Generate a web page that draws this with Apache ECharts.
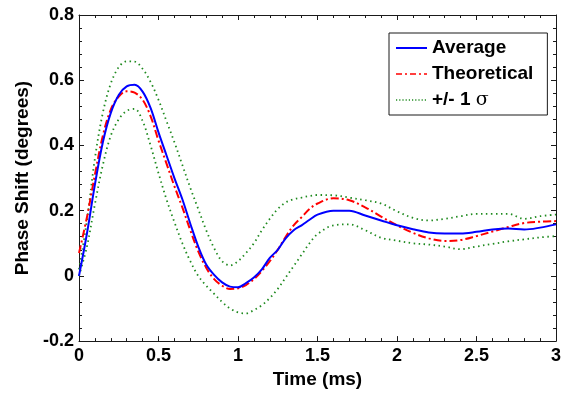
<!DOCTYPE html>
<html>
<head>
<meta charset="utf-8">
<script src="https://cdn.jsdelivr.net/npm/echarts@6/dist/echarts.min.js"></script>
<style>html,body{margin:0;padding:0;background:#fff}#c{width:570px;height:394px}</style>
</head>
<body>
<div id="c"></div>
<script>
var time = [0,0.05,0.1,0.15,0.2,0.25,0.3,0.35,0.4,0.45,0.5,0.55,0.6,0.65,0.7,0.75,0.8,0.85,0.9,0.95,1.0,1.05,1.1,1.15,1.2,1.25,1.3,1.35,1.4,1.45,1.5,1.6,1.7,1.8,1.9,2.0,2.1,2.2,2.3,2.4,2.5,2.6,2.7,2.8,2.9,3.0];
var average = [0,0.13,0.28,0.41,0.5,0.555,0.581,0.586,0.565,0.515,0.44,0.37,0.3,0.235,0.16,0.09,0.035,0.003,-0.02,-0.033,-0.035,-0.022,-0.005,0.02,0.055,0.08,0.115,0.14,0.155,0.172,0.188,0.2,0.2,0.185,0.17,0.155,0.143,0.133,0.13,0.13,0.135,0.142,0.145,0.142,0.148,0.158];
var theoretical = [0.07,0.18,0.31,0.43,0.51,0.55,0.566,0.562,0.54,0.49,0.415,0.345,0.275,0.21,0.14,0.075,0.025,-0.01,-0.03,-0.04,-0.038,-0.028,-0.01,0.015,0.045,0.08,0.12,0.155,0.18,0.205,0.222,0.238,0.232,0.21,0.182,0.155,0.132,0.115,0.107,0.11,0.122,0.136,0.15,0.162,0.166,0.168];
var upperSigma = [0.02,0.17,0.36,0.5,0.59,0.64,0.658,0.657,0.635,0.595,0.54,0.475,0.41,0.34,0.27,0.205,0.14,0.085,0.045,0.032,0.045,0.07,0.1,0.14,0.175,0.205,0.225,0.235,0.24,0.245,0.248,0.247,0.24,0.232,0.222,0.198,0.178,0.17,0.175,0.183,0.19,0.19,0.19,0.175,0.183,0.188];
var lowerSigma = [0,0.09,0.22,0.34,0.43,0.48,0.506,0.512,0.475,0.4,0.315,0.235,0.165,0.1,0.045,0.0,-0.03,-0.055,-0.08,-0.1,-0.112,-0.115,-0.105,-0.09,-0.068,-0.04,-0.005,0.03,0.065,0.1,0.128,0.155,0.158,0.14,0.117,0.108,0.1,0.096,0.09,0.082,0.09,0.098,0.106,0.112,0.118,0.122];
var xTicks = [0,0.5,1,1.5,2,2.5,3];
var yTicks = [-0.2,0,0.2,0.4,0.6,0.8];

function pairs(v){ return time.map(function(t,i){ return [t, v[i]]; }); }
var FONT = '"Liberation Sans", Arial, sans-serif';
var axisCol = '#1a1a1a';
function fmtY(v){ var r=Math.round(v*10)/10; return r===0?'0':String(r); }
function fmtX(v){ var r=Math.round(v*10)/10; return String(r); }

var chart = echarts.init(document.getElementById('c'), null, {renderer:'canvas'});
var baseX = {type:'value', min:xTicks[0], max:xTicks[xTicks.length-1], interval:0.5,
  axisLine:{show:true, onZero:false, lineStyle:{color:axisCol, width:1}},
  axisTick:{show:true, inside:true, length:5, lineStyle:{color:axisCol}},
  minorTick:{show:true, splitNumber:5, length:3, lineStyle:{color:axisCol}},
  splitLine:{show:false}, minorSplitLine:{show:false}};
var baseY = {type:'value', min:yTicks[0], max:yTicks[yTicks.length-1], interval:0.2,
  axisLine:{show:true, onZero:false, lineStyle:{color:axisCol, width:1}},
  axisTick:{show:true, inside:true, length:5, lineStyle:{color:axisCol}},
  minorTick:{show:true, splitNumber:5, length:3, lineStyle:{color:axisCol}},
  splitLine:{show:false}, minorSplitLine:{show:false}};

var T = 'transparent';
chart.setOption({
  animation:false,
  backgroundColor:'#fff',
  grid:{left:79, right:14, top:15, bottom:50, containLabel:false},
  xAxis:[
    Object.assign({}, baseX, {position:'bottom', name:'Time (ms)', nameLocation:'middle', nameGap:27,
      nameTextStyle:{fontFamily:FONT, fontWeight:'bold', fontSize:19, color:'#000'},
      axisLabel:{show:true, margin:6, formatter:fmtX, fontFamily:FONT, fontWeight:'bold', fontSize:18, color:'#000'}}),
    Object.assign({}, baseX, {position:'top', axisLabel:{show:false}})
  ],
  yAxis:[
    Object.assign({}, baseY, {position:'left', name:'Phase Shift (degrees)', nameLocation:'middle', nameGap:45,
      nameTextStyle:{fontFamily:FONT, fontWeight:'bold', fontSize:19, color:'#000'},
      axisLabel:{show:true, margin:5, formatter:fmtY, fontFamily:FONT, fontWeight:'bold', fontSize:18, color:'#000'}}),
    Object.assign({}, baseY, {position:'right', axisLabel:{show:false}})
  ],
  legend:{
    show:true, orient:'vertical', left:389, top:33,
    data:[
      {name:'Average', itemStyle:{color:T, borderColor:T, borderWidth:0}, lineStyle:{color:'#0000ff', width:2, type:'solid'}},
      {name:'Theoretical', itemStyle:{color:T, borderColor:T, borderWidth:0}, lineStyle:{color:'#ff0000', width:1.5, type:[6,3,2,3]}},
      {name:'+/- 1 σ', itemStyle:{color:T, borderColor:T, borderWidth:0}, lineStyle:{color:'#1f8a1f', width:1.5, type:[1.2,2]}}
    ],
    backgroundColor:'#fff', borderColor:'#1a1a1a', borderWidth:1, borderRadius:0,
    padding:[5,14,5,6], itemGap:6, itemWidth:31, itemHeight:14,
    textStyle:{fontFamily:FONT, fontWeight:'bold', fontSize:19, color:'#000', lineHeight:20,
      rich:{s:{fontFamily:'"DejaVu Serif", serif', fontWeight:'normal', fontSize:19, color:'#000', lineHeight:20}}},
    formatter:function(n){ return n==='+/- 1 σ' ? '+/- 1 {s|σ}' : n; },
    selectedMode:false
  },
  series:[
    {name:'+/- 1 σ', type:'line', data:pairs(upperSigma), showSymbol:false, symbol:'none', smooth:0.35,
      lineStyle:{color:'#1f8a1f', width:1.8, type:[1.5,3.5]}, itemStyle:{color:'#1f8a1f'}, z:1},
    {name:'+/- 1 σ', type:'line', data:pairs(lowerSigma), showSymbol:false, symbol:'none', smooth:0.35,
      lineStyle:{color:'#1f8a1f', width:1.8, type:[1.5,3.5]}, itemStyle:{color:'#1f8a1f'}, z:1},
    {name:'Average', type:'line', data:pairs(average), showSymbol:false, symbol:'none', smooth:0.35,
      lineStyle:{color:'#0000ff', width:2}, itemStyle:{color:'#0000ff'}, z:3},
    {name:'Theoretical', type:'line', data:pairs(theoretical), showSymbol:false, symbol:'none', smooth:0.35,
      lineStyle:{color:'#ff0000', width:2, type:[8,3,2,3]}, itemStyle:{color:'#ff0000'}, z:2}
  ]
});
</script>
</body>
</html>
